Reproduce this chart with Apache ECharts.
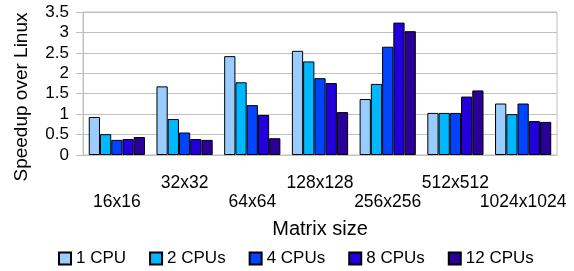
<!DOCTYPE html>
<html>
<head>
<meta charset="utf-8">
<script src="https://cdn.jsdelivr.net/npm/echarts@6/dist/echarts.min.js"></script>
<style>
  html, body { margin: 0; padding: 0; background: #fff; }
  #chart { width: 574px; height: 271px; }
</style>
</head>
<body>
<div id="chart"></div>
<script>
// matrix sizes along the x axis
const sizes = ['16x16', '32x32', '64x64', '128x128', '256x256', '512x512', '1024x1024'];
const seriesNames = ['1 CPU', '2 CPUs', '4 CPUs', '8 CPUs', '12 CPUs'];
const colors = ['#99ccff', '#00b8ff', '#0044ff', '#2200dd', '#2a0099'];

// speedup over Linux, one array per CPU count
const cpu1 = [0.93, 1.68, 2.42, 2.55, 1.37, 1.03, 1.26];
const cpu2 = [0.51, 0.88, 1.78, 2.29, 1.74, 1.03, 1.00];
const cpu4 = [0.37, 0.55, 1.22, 1.88, 2.65, 1.03, 1.26];
const cpu8 = [0.39, 0.39, 0.98, 1.76, 3.24, 1.43, 0.83];
const cpu12 = [0.44, 0.37, 0.41, 1.05, 3.03, 1.58, 0.81];
const allData = [cpu1, cpu2, cpu4, cpu8, cpu12];

const font = 'Liberation Sans, Arial, sans-serif';

const chart = echarts.init(document.getElementById('chart'));
chart.setOption({
  animation: false,
  textStyle: { fontFamily: font },
  grid: {
    left: 83, right: 17, top: 12, bottom: 116,
    show: true, borderColor: '#c0c0c0', borderWidth: 1
  },
  legend: {
    bottom: 4,
    left: 58,
    padding: 0,
    itemWidth: 12,
    itemHeight: 12,
    itemGap: 23,
    icon: 'rect',
    textStyle: { fontSize: 17, color: '#000', fontFamily: font },
    data: seriesNames
  },
  xAxis: {
    type: 'category',
    data: sizes,
    name: 'Matrix size',
    nameLocation: 'middle',
    nameGap: 64,
    nameTextStyle: { fontSize: 20, color: '#000' },
    axisLine: { lineStyle: { color: '#c0c0c0' } },
    axisTick: { length: 10, lineStyle: { color: '#c0c0c0' } },
    axisLabel: {
      interval: 0,
      fontSize: 17.5,
      color: '#000',
      margin: 19,
      lineHeight: 19,
      formatter: (v, i) => (i % 2 === 0 ? '\n' + v : v)
    }
  },
  yAxis: {
    type: 'value',
    min: 0,
    max: 3.5,
    interval: 0.5,
    name: 'Speedup over Linux',
    nameLocation: 'middle',
    nameGap: 52,
    nameTextStyle: { fontSize: 19, color: '#000', padding: [0, 0, 0, -27] },
    axisLine: { show: true, lineStyle: { color: '#c0c0c0' } },
    axisTick: { show: true, length: 7, lineStyle: { color: '#c0c0c0' } },
    splitLine: { lineStyle: { color: '#c0c0c0' } },
    axisLabel: { fontSize: 17, color: '#000', margin: 14 }
  },
  series: seriesNames.map((name, i) => ({
    name: name,
    type: 'bar',
    data: allData[i],
    barGap: 0,
    barCategoryGap: '17%',
    itemStyle: {
      color: colors[i],
      borderColor: '#000',
      borderWidth: 1
    }
  }))
});
</script>
</body>
</html>
